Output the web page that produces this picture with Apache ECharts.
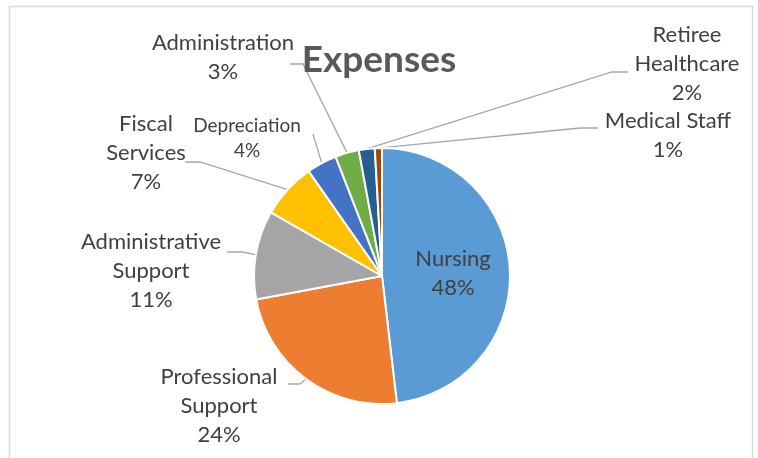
<!DOCTYPE html>
<html>
<head>
<meta charset="utf-8">
<script src="https://cdn.jsdelivr.net/npm/echarts@6/dist/echarts.min.js"></script>
<style>html,body{margin:0;padding:0;background:#fff}#c{width:758px;height:458px}</style>
</head>
<body>
<div id="c"></div>
<script>
// ---- data ----
const categories = ['Nursing', 'Professional Support', 'Administrative Support', 'Fiscal Services',
  'Depreciation', 'Administration', 'Retiree Healthcare', 'Medical Staff'];
const values = [48.1, 23.9, 11.2, 7.0, 3.8, 3.0, 2.0, 0.9];
const labelText = ['Nursing', 'Professional\nSupport', 'Administrative\nSupport', 'Fiscal\nServices',
  'Depreciation', 'Administration', 'Retiree\nHealthcare', 'Medical Staff'];
const colors = ['#5B9BD5', '#ED7D31', '#A5A5A5', '#FFC000', '#4472C4', '#70AD47', '#255E91', '#9E480E'];

// ---- label placement (layout config) ----
const labelPos = [
  null,
  {x: 219, y: 406, elbow: [300, 384], end: [288, 384]},
  {x: 151, y: 271, elbow: [242, 252], end: [227, 252]},
  {x: 146, y: 153, elbow: [200, 162], end: [185, 162]},
  {x: 247, y: 138, elbow: [313, 134], end: [313, 134]},
  {x: 223, y: 57, elbow: [303, 64], end: [290, 64]},
  {x: 687, y: 64, elbow: [612, 72], end: [628, 72]},
  {x: 668, y: 135, elbow: [580, 128], end: [598, 128]}
];

const FONT = 'Lato';
const data = categories.map((n, i) => {
  const d = {name: n, value: values[i], itemStyle: {color: colors[i]}};
  if (i === 0) {
    d.label = {position: 'inside'};
    d.labelLine = {show: false};
  }
  if (i === 4) {
    d.label = {fontSize: 19, lineHeight: 25};
  }
  return d;
});

const chart = echarts.init(document.getElementById('c'), null, {renderer: 'canvas'});
chart.setOption({
  animation: false,
  backgroundColor: '#ffffff',
  title: {
    text: 'Expenses',
    left: 'center',
    top: 37,
    textStyle: {fontFamily: FONT, fontWeight: 'bold', fontSize: 37, color: '#595959'}
  },
  graphic: [{
    type: 'rect',
    shape: {x: 9.5, y: 6.5, width: 743, height: 470},
    style: {fill: 'none', stroke: '#d9d9d9', lineWidth: 1.5},
    silent: true
  }],
  series: [{
    type: 'pie',
    center: [382, 276],
    radius: [0, 128],
    startAngle: 90,
    clockwise: true,
    percentPrecision: 0,
    avoidLabelOverlap: false,
    itemStyle: {borderColor: '#ffffff', borderWidth: 2},
    label: {
      show: true,
      position: 'outside',
      fontFamily: FONT,
      fontSize: 22,
      lineHeight: 29,
      color: '#404040',
      align: 'center',
      formatter: p => labelText[p.dataIndex] + '\n' + p.percent + '%'
    },
    labelLine: {show: true, lineStyle: {color: '#a6a6a6', width: 1.3}, length: 10, length2: 10},
    labelLayout: function (params) {
      const i = params.dataIndex;
      if (i === 0) {
        return {x: 453, y: 273, align: 'center', verticalAlign: 'middle'};
      }
      const c = labelPos[i];
      if (!c) return {};
      const pts = params.labelLinePoints;
      const p0 = pts && pts[0] ? pts[0] : c.elbow;
      return {
        x: c.x, y: c.y, align: 'center', verticalAlign: 'middle',
        labelLinePoints: [p0, c.elbow, c.end]
      };
    },
    emphasis: {disabled: true},
    data: data
  }]
});
</script>
</body>
</html>
